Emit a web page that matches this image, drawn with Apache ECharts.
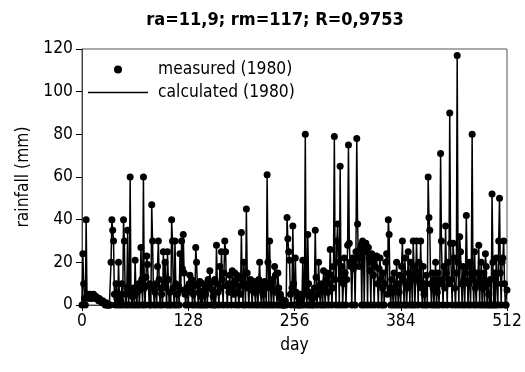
<!DOCTYPE html>
<html>
<head>
<meta charset="utf-8">
<script src="https://cdn.jsdelivr.net/npm/echarts@6/dist/echarts.min.js"></script>
<style>html,body{margin:0;padding:0;background:#fff;}#c{width:525px;height:372px;}</style>
</head>
<body>
<div id="c"></div>
<script>
var titleText = 'ra=11,9; rm=117; R=0,9753';
var xTicks = [0, 128, 256, 384, 512];
var yTicks = [0, 20, 40, 60, 80, 100, 120];
// daily rainfall (mm), days 0..512
var measured = [
0,24,10,3,0,40,4,5,3,4,5,4,3,4,5,4,
3,4,3,3,2,3,2,2,1,2,1,1,0,1,0,0,
0,0,0,20,40,35,30,5,0,10,3,0,20,5,0,2,
10,0,40,30,5,0,8,35,0,5,60,6,0,4,8,0,
21,6,0,8,10,0,7,27,12,0,60,8,0,13,23,19,
9,0,10,0,47,30,8,0,6,10,0,18,30,12,0,8,
5,0,25,10,20,8,0,25,12,0,6,0,40,30,8,0,
30,10,0,5,9,0,24,7,30,17,33,15,5,0,8,6,
0,10,14,8,12,0,5,10,0,27,20,9,0,6,11,0,
4,0,10,7,0,5,9,0,12,8,16,10,0,7,4,0,
12,0,28,10,6,0,18,8,25,12,0,15,30,25,9,0,
10,6,14,8,0,16,10,5,15,0,12,14,6,0,9,5,
34,12,0,20,10,0,45,15,8,0,10,12,7,0,9,11,
6,0,8,10,0,12,20,7,0,9,5,0,11,8,0,61,
20,0,30,10,0,8,12,0,18,14,6,0,15,8,0,5,
3,0,0,0,0,2,0,41,31,25,21,5,0,8,37,10,
0,22,6,0,4,0,0,5,0,3,21,0,5,80,8,0,
33,10,0,4,6,0,3,0,8,35,13,0,5,20,9,0,
6,10,0,16,8,0,12,15,6,0,10,26,14,0,8,18,
79,12,0,30,38,20,0,65,12,18,0,10,22,15,0,12,
28,75,29,20,18,0,22,17,20,0,25,78,38,22,18,26,
28,0,30,27,0,26,29,25,0,27,22,16,0,24,20,14,
0,18,22,23,10,0,17,22,12,0,8,15,0,10,20,24,
5,40,33,8,0,12,6,0,15,8,0,20,10,0,6,14,
0,18,30,12,0,22,10,0,8,25,15,0,20,12,0,30,
18,0,12,30,15,0,20,10,30,8,0,18,5,0,10,14,
0,60,41,35,10,0,15,8,0,12,20,0,6,15,0,10,
71,30,12,0,18,8,37,15,0,20,10,90,29,12,0,29,
22,8,0,15,117,20,0,32,25,10,0,18,12,0,15,42,
18,0,10,20,0,15,80,12,0,25,8,0,15,10,28,0,
12,20,0,8,15,0,24,18,0,10,5,0,12,0,52,20,
0,15,0,22,10,0,30,50,15,0,20,22,30,10,0,0,7
];
// calculated series is visually indistinguishable from the measured one
var calculated = measured;
var days = measured.map(function (v, i) { return i; });

var font = 'DejaVu Sans Condensed, DejaVu Sans, sans-serif';
var chart = echarts.init(document.getElementById('c'), null, {renderer: 'canvas'});
chart.setOption({
  animation: false,
  backgroundColor: '#ffffff',
  title: {
    text: titleText, left: 270, top: 6, textAlign: 'center',
    textStyle: {fontFamily: 'DejaVu Sans Condensed, DejaVu Sans, sans-serif', fontWeight: 'bold', fontSize: 18, color: '#000'}
  },
  legend: {
    orient: 'vertical', left: 83, top: 56, itemWidth: 60, itemHeight: 8, itemGap: 6,
    textStyle: {fontFamily: font, fontSize: 17.3, color: '#000', padding: [0, 0, 0, 5]},
    data: [
      {name: 'measured (1980)', icon: 'circle', itemStyle: {opacity: 1}},
      {name: 'calculated (1980)', icon: 'path://M0,0 L80,0 L80,2 L0,2 Z'}
    ]
  },
  grid: {left: 82, right: 18, top: 49, bottom: 67, show: true, borderColor: '#555', borderWidth: 1},
  xAxis: {
    type: 'value', min: xTicks[0], max: xTicks[xTicks.length - 1], interval: 128,
    name: 'day', nameLocation: 'middle', nameGap: 32,
    nameTextStyle: {fontFamily: font, fontSize: 17.3, color: '#000'},
    axisLine: {show: true, onZero: false, lineStyle: {color: '#444', width: 1}},
    axisTick: {show: true, length: 6, lineStyle: {color: '#000'}},
    axisLabel: {fontFamily: font, fontSize: 17.3, color: '#000', margin: 8},
    splitLine: {show: false}
  },
  yAxis: {
    type: 'value', min: yTicks[0], max: yTicks[yTicks.length - 1], interval: 20,
    name: 'rainfall (mm)', nameLocation: 'middle', nameGap: 50,
    nameTextStyle: {fontFamily: font, fontSize: 17.3, color: '#000'},
    axisLine: {show: true, lineStyle: {color: '#444', width: 1}},
    axisTick: {show: true, length: 6, lineStyle: {color: '#000'}},
    axisLabel: {fontFamily: font, fontSize: 17.3, color: '#000', margin: 9},
    splitLine: {show: false}
  },
  series: [
    {
      name: 'measured (1980)', type: 'scatter', symbol: 'circle', symbolSize: 7,
      itemStyle: {color: '#000', opacity: 1}, z: 3,
      data: days.map(function (d) { return [d, measured[d]]; })
    },
    {
      name: 'calculated (1980)', type: 'line', symbol: 'none', showSymbol: false,
      lineStyle: {color: '#000', width: 1.5}, itemStyle: {color: '#000'}, z: 2,
      data: days.map(function (d) { return [d, calculated[d]]; })
    }
  ]
});
</script>
</body>
</html>
